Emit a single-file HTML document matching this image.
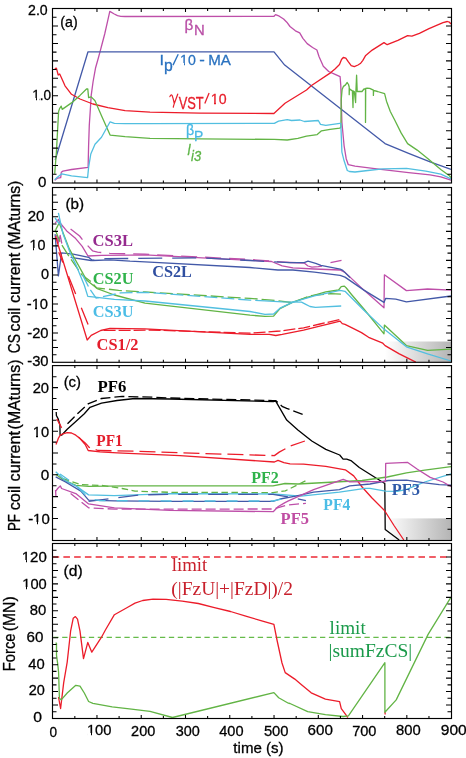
<!DOCTYPE html>
<html><head><meta charset="utf-8"><style>
html,body{margin:0;padding:0;background:#fff;}
svg{display:block;will-change:transform;}
text{-webkit-font-smoothing:antialiased;}
</style></head><body>
<svg width="466" height="758" viewBox="0 0 466 758">
<rect width="466" height="758" fill="#fff"/>
<defs><linearGradient id="g1" x1="0" x2="1" y1="0" y2="0"><stop offset="0" stop-color="#ffffff"/><stop offset="1" stop-color="#b4b4b4"/></linearGradient></defs>
<rect x="384.8" y="341.5" width="66.7" height="20.8" fill="url(#g1)"/>
<rect x="386" y="518.4" width="65.5" height="22.1" fill="url(#g1)"/>
<polyline points="54.7,180.4 55.9,179.2 57.5,178.1 60.7,177.6 61.3,172.2 62.9,171.1 71.5,169.5 88.1,167.4 88.6,145.8 89.3,125.0 90.3,110.0 91.2,95.4 93.1,81.5 95.6,67.7 98.2,58.5 100.2,51.1 101.8,45.0 104.7,34.0 107.9,19.8 109.8,11.4 114.3,14.0 117.5,15.6 120.8,16.3 125.0,16.5 274.0,16.3 275.5,14.6 279.3,16.2 283.6,19.0 286.8,22.2 290.0,26.5 295.4,30.8 299.7,32.9 302.9,38.3 307.2,43.6 312.6,47.5 316.9,50.0 319.0,56.5 323.3,66.2 328.7,71.5 335.1,74.4 340.1,76.7 340.8,85.7 341.9,122.2 344.1,145.8 346.2,158.7 348.3,164.7 355.0,166.2 380.8,169.4 408.6,172.6 430.1,174.8 440.8,176.9 451.0,180.1" fill="none" stroke="#be4fa9" stroke-width="1.3" stroke-linejoin="round" stroke-linecap="butt"/>
<polyline points="55.2,160.0 88.0,51.8 274.0,51.8 284.7,65.1 385.0,143.6 408.6,153.3 430.1,161.9 451.0,169.4" fill="none" stroke="#4359a8" stroke-width="1.3" stroke-linejoin="round" stroke-linecap="butt"/>
<polyline points="54.7,68.6 56.4,68.2 58.2,75.0 59.7,74.0 61.2,77.2 65.0,85.8 71.5,94.3 80.0,99.0 92.9,104.0 107.9,107.6 125.1,110.6 150.0,112.1 200.0,113.2 273.9,113.5 285.0,103.3 306.5,90.0 311.5,85.5 330.8,72.6 335.0,69.0 339.5,64.5 341.5,59.5 343.3,57.5 345.8,58.2 348.4,61.9 351.2,65.6 354.3,66.7 358.0,65.0 360.7,63.2 362.7,60.6 365.7,55.4 372.2,50.1 384.0,42.6 387.2,44.7 397.9,40.4 407.6,35.7 411.9,36.1 419.4,33.3 429.0,28.6 443.0,22.6 447.3,21.5 449.4,22.2 451.0,24.0" fill="none" stroke="#ec1c2a" stroke-width="1.3" stroke-linejoin="round" stroke-linecap="butt"/>
<polyline points="54.7,173.7 56.4,152.3 58.6,111.5 59.7,108.3 61.2,106.1 62.2,109.4 71.5,102.9 80.0,95.4 86.5,89.0 87.8,89.0 88.6,97.6 91.2,96.9 95.0,100.8 101.5,115.8 110.1,135.1 125.1,136.6 150.0,138.3 200.0,138.9 274.3,139.4 287.2,140.0 297.9,138.3 306.5,136.1 317.2,134.6 321.5,130.8 330.1,129.3 339.8,128.2 340.9,127.0 341.2,100.0 342.1,89.6 343.4,86.4 345.3,85.1 347.2,82.5 348.5,84.5 349.2,87.0 349.2,94.7 349.4,88.5 350.4,89.6 352.4,90.9 353.0,107.6 353.3,91.0 354.3,91.5 355.6,102.5 355.9,91.3 356.6,75.2 357.2,91.5 362.0,91.5 364.0,89.0 365.5,89.0 365.5,122.4 365.7,88.5 367.2,88.1 369.7,88.3 373.4,90.2 373.4,95.4 373.6,90.4 377.5,91.5 384.6,93.7 386.5,101.2 390.3,111.5 394.7,120.0 401.1,132.9 407.6,143.6 417.2,150.1 428.0,158.7 440.8,169.4 449.4,175.8 451.0,177.6" fill="none" stroke="#62b445" stroke-width="1.3" stroke-linejoin="round" stroke-linecap="butt"/>
<polyline points="54.7,179.7 56.4,178.1 61.8,173.8 71.5,175.9 87.6,177.6 88.6,167.4 90.8,154.0 95.0,144.3 101.5,137.3 110.1,121.8 114.4,123.3 125.1,123.6 150.0,123.6 274.3,123.3 278.6,121.1 287.2,119.6 291.5,120.5 300.0,120.0 304.4,121.5 318.3,120.5 320.5,124.3 325.8,125.4 339.8,123.3 340.8,123.3 341.9,152.2 344.1,160.8 347.3,170.5 349.4,171.5 355.0,172.0 367.9,170.5 382.9,168.8 406.5,168.3 425.8,171.1 440.8,174.1 451.0,178.8" fill="none" stroke="#52bfe0" stroke-width="1.3" stroke-linejoin="round" stroke-linecap="butt"/>
<polyline points="55.1,223.2 58.4,219.3 59.7,222.5 66.7,230.9 75.7,238.6 82.2,246.3 88.0,256.0 101.5,255.3 130.0,255.2 145.0,254.9 250.0,260.4 271.5,261.5 282.2,265.8 292.9,267.9 314.4,269.0 340.1,270.0 345.0,272.4 363.9,290.1 384.0,307.8 384.4,274.8 406.4,290.6 427.6,289.0 451.0,290.1" fill="none" stroke="#be4fa9" stroke-width="1.3" stroke-linejoin="round" stroke-linecap="butt"/>
<polyline points="70.6,229.0 79.6,236.0 84.7,242.5 92.5,250.8 97.6,252.1 110.0,253.4 145.0,254.2 250.0,259.5 290.0,262.5" fill="none" stroke="#be4fa9" stroke-width="1.3" stroke-linejoin="round" stroke-linecap="butt" stroke-dasharray="16,8"/>
<polyline points="290.0,262.5 304.2,263.0 308.0,266.0 311.9,267.2 318.3,266.6 322.0,266.0" fill="none" stroke="#be4fa9" stroke-width="1.3" stroke-linejoin="round" stroke-linecap="butt"/>
<polyline points="330.5,262.7 341.5,260.4" fill="none" stroke="#be4fa9" stroke-width="1.3" stroke-linejoin="round" stroke-linecap="butt"/>
<polyline points="56.5,235.0 58.3,243.0 60.2,235.5 61.8,243.5" fill="none" stroke="#be4fa9" stroke-width="1.3" stroke-linejoin="round" stroke-linecap="butt"/>
<polyline points="55.1,234.1 58.4,275.9 61.6,252.8 73.2,254.1 88.6,257.3 92.5,260.5 110.0,259.8 130.0,261.2 145.0,261.9 250.0,267.5 277.9,270.0 292.9,270.0 314.4,272.2 340.1,275.4 345.0,277.1 363.9,290.1 384.0,302.4 385.6,298.4 395.8,299.1 406.4,301.9 451.0,296.0" fill="none" stroke="#4359a8" stroke-width="1.3" stroke-linejoin="round" stroke-linecap="butt"/>
<polyline points="70.6,257.3 91.2,260.5 106.0,258.7 200.0,257.9 250.0,260.5 290.0,262.7" fill="none" stroke="#4359a8" stroke-width="1.3" stroke-linejoin="round" stroke-linecap="butt" stroke-dasharray="24,10"/>
<polyline points="290.0,262.7 304.2,262.7 308.0,261.2 315.7,263.4 320.9,265.3 340.2,269.2 342.8,270.4 350.0,277.5" fill="none" stroke="#4359a8" stroke-width="1.3" stroke-linejoin="round" stroke-linecap="butt"/>
<polyline points="55.8,229.6 59.0,223.2 60.3,225.7 69.3,248.9 82.2,272.1 86.5,280.0 97.2,288.6 114.4,295.0 145.0,303.1 250.0,315.2 265.0,316.4 273.6,316.2 280.0,308.7 292.9,302.2 300.0,299.6 312.9,295.7 325.7,291.9 338.6,290.0 341.2,286.7 344.4,286.1 346.3,288.0 351.5,294.5 363.9,309.0 384.0,333.8 384.4,325.1 406.4,345.6 427.6,350.3 451.0,349.2" fill="none" stroke="#62b445" stroke-width="1.3" stroke-linejoin="round" stroke-linecap="butt"/>
<polyline points="55.1,229.6 60.3,242.5 70.0,258.0 82.0,275.0 91.2,281.8 96.4,287.8 118.7,290.4 145.0,292.0 250.0,298.4 271.5,300.1 292.9,302.7 310.0,295.8 330.5,293.6 341.2,294.1" fill="none" stroke="#62b445" stroke-width="1.3" stroke-linejoin="round" stroke-linecap="butt" stroke-dasharray="13,4"/>
<polyline points="58.4,212.9 62.9,233.5 70.6,254.0 75.8,264.6 84.3,285.2 87.8,296.4 95.0,297.2 114.4,299.3 145.0,301.0 250.0,311.5 265.0,314.3 273.6,314.0 280.0,308.2 292.9,302.2 314.4,295.8 340.1,290.4 345.0,291.3 363.9,310.2 384.0,329.1 406.4,346.8 427.6,353.9 451.0,361.0" fill="none" stroke="#52bfe0" stroke-width="1.3" stroke-linejoin="round" stroke-linecap="butt"/>
<polyline points="55.1,218.0 59.7,224.5" fill="none" stroke="#52bfe0" stroke-width="1.3" stroke-linejoin="round" stroke-linecap="butt"/>
<polyline points="82.6,274.9 89.5,288.7 96.1,298.2 120.8,292.9 145.0,292.3 250.0,300.1 265.0,300.8" fill="none" stroke="#52bfe0" stroke-width="1.3" stroke-linejoin="round" stroke-linecap="butt" stroke-dasharray="13,4"/>
<polyline points="265.0,300.8 282.2,301.8 301.5,302.2 305.8,304.4 310.0,306.5 315.4,307.3 341.2,306.0" fill="none" stroke="#52bfe0" stroke-width="1.3" stroke-linejoin="round" stroke-linecap="butt"/>
<polyline points="55.5,236.3 87.2,340.0 91.2,335.3 100.7,330.5 110.0,328.3 145.0,328.8 250.0,334.4 269.3,334.4 275.8,335.5 282.2,334.4 303.6,330.1 320.8,325.8 340.1,321.1 342.3,323.7 345.0,324.4 352.1,327.9 361.5,332.6 368.6,337.3 382.8,343.2 385.1,345.6 399.3,353.9 415.8,362.2" fill="none" stroke="#ec1c2a" stroke-width="1.3" stroke-linejoin="round" stroke-linecap="butt"/>
<polyline points="58.7,252.2 88.3,325.0" fill="none" stroke="#ec1c2a" stroke-width="1.3" stroke-linejoin="round" stroke-linecap="butt" stroke-dasharray="11,15,19,15,18,20"/>
<polyline points="103.6,330.4 131.5,330.4 150.0,330.0 250.0,333.2 280.0,331.0 303.6,327.8 320.0,324.0 340.0,319.5" fill="none" stroke="#ec1c2a" stroke-width="1.3" stroke-linejoin="round" stroke-linecap="butt" stroke-dasharray="12,3"/>
<polyline points="56.2,412.0 56.4,415.5 58.2,418.9 59.9,424.9 60.1,435.2 61.6,435.2 67.2,429.2 75.8,421.5 84.3,413.7 90.0,407.3 101.5,403.1 117.0,400.5 135.0,398.5 170.0,399.0 273.2,401.6 275.7,401.1 286.7,420.1 297.9,429.9 311.8,441.0 325.8,449.4 339.7,455.0 343.1,459.2 346.7,459.2 350.9,460.6 359.3,467.5 370.4,474.5 384.8,483.5 385.2,529.4 399.2,540.0" fill="none" stroke="#000" stroke-width="1.3" stroke-linejoin="round" stroke-linecap="butt"/>
<polyline points="67.5,423.7 74.0,417.2 78.3,412.9 88.6,403.6 101.5,398.5 122.1,396.4 153.0,397.2 170.0,398.0 273.0,400.6 275.6,400.6 282.6,406.7 286.7,408.4 304.9,415.1" fill="none" stroke="#000" stroke-width="1.35" stroke-linejoin="round" stroke-linecap="butt" stroke-dasharray="10,4"/>
<polyline points="56.0,444.6 58.6,437.8 60.3,435.2 62.9,433.9 67.2,432.6 71.5,433.0 75.8,435.2 80.0,438.6 85.2,444.5 88.2,450.5 100.0,451.8 117.2,452.9 180.0,455.6 274.4,462.0 278.0,460.3 283.9,462.7 290.0,463.9 303.5,464.2 325.8,466.3 345.3,469.8 353.7,475.9 362.1,487.0 372.0,498.0 384.5,510.5 394.0,525.5 403.8,540.0" fill="none" stroke="#ec1c2a" stroke-width="1.3" stroke-linejoin="round" stroke-linecap="butt"/>
<polyline points="56.9,418.9 61.6,427.9" fill="none" stroke="#ec1c2a" stroke-width="1.3" stroke-linejoin="round" stroke-linecap="butt"/>
<polyline points="78.3,436.9 85.2,442.9 89.3,447.5 98.0,450.5 136.5,451.2 180.0,452.8 274.4,455.6 279.2,452.1 290.0,446.2 304.9,441.0" fill="none" stroke="#ec1c2a" stroke-width="1.3" stroke-linejoin="round" stroke-linecap="butt" stroke-dasharray="16,6"/>
<polyline points="55.7,474.3 62.9,479.5 75.8,485.4 88.6,486.4 127.3,485.9 273.0,485.9 285.0,483.5 297.9,484.0 325.8,482.5 362.1,480.5 387.2,477.0 406.5,472.8 424.7,470.1 451.0,466.6" fill="none" stroke="#62b445" stroke-width="1.3" stroke-linejoin="round" stroke-linecap="butt"/>
<polyline points="62.9,478.7 80.9,484.6 101.5,485.4 122.1,488.5 135.0,491.1 170.0,492.3 273.0,492.6 285.3,490.9 305.9,480.6" fill="none" stroke="#62b445" stroke-width="1.3" stroke-linejoin="round" stroke-linecap="butt" stroke-dasharray="6.5,3.5"/>
<polyline points="55.7,471.7 65.5,480.8 75.8,485.9 88.6,494.9 114.4,495.7 170.0,493.6 273.0,494.0 300.8,496.1 339.4,492.2 365.0,488.3 370.0,488.3 385.5,491.1 397.4,491.4 406.5,489.3 424.7,482.0 451.0,473.8" fill="none" stroke="#52bfe0" stroke-width="1.3" stroke-linejoin="round" stroke-linecap="butt"/>
<polyline points="55.7,476.9 65.5,482.0 80.9,491.1 88.6,500.1 114.4,500.8 170.0,501.4 273.0,501.4 280.0,499.0 295.6,496.1 313.6,492.2 339.4,489.6 349.7,485.8 370.0,484.0 388.2,480.5 406.5,480.1 424.7,482.9 439.3,484.7 451.0,485.2" fill="none" stroke="#4359a8" stroke-width="1.3" stroke-linejoin="round" stroke-linecap="butt"/>
<polyline points="88.6,501.4 140.1,494.9 170.0,494.3 273.0,494.3 290.5,497.3 305.9,500.7" fill="none" stroke="#4359a8" stroke-width="1.3" stroke-linejoin="round" stroke-linecap="butt" stroke-dasharray="20,10"/>
<polyline points="60.0,474.0 75.8,485.0 88.6,498.5 100.0,500.6 170.0,501.0 273.0,501.0 282.0,499.0" fill="none" stroke="#52bfe0" stroke-width="1.3" stroke-linejoin="round" stroke-linecap="butt" stroke-dasharray="11,11"/>
<polyline points="55.7,491.1 57.7,488.5 60.3,485.9 61.6,488.5 75.8,493.6 88.6,503.9 114.4,507.8 170.0,510.4 273.2,511.7 278.3,506.5 285.0,502.6 287.9,501.2 313.6,489.6 343.2,479.3 349.7,481.9 370.0,481.6 385.5,481.6 385.7,463.3 407.4,462.3 417.4,469.2 430.2,477.4 443.0,482.0 451.0,486.5" fill="none" stroke="#be4fa9" stroke-width="1.3" stroke-linejoin="round" stroke-linecap="butt"/>
<polyline points="55.5,490.0 56.0,497.0" fill="none" stroke="#be4fa9" stroke-width="1.3" stroke-linejoin="round" stroke-linecap="butt"/>
<polyline points="70.6,493.6 88.6,507.8 114.4,509.1 170.0,509.1 273.0,509.0 286.6,505.1 305.9,503.3" fill="none" stroke="#be4fa9" stroke-width="1.3" stroke-linejoin="round" stroke-linecap="butt" stroke-dasharray="10,4"/>
<polyline points="52.6,557.0 451.1,557.0" fill="none" stroke="#ec2a36" stroke-width="1.3" stroke-linejoin="round" stroke-linecap="butt" stroke-dasharray="6.6,4.16"/>
<polyline points="53.3,637.3 451.1,637.3" fill="none" stroke="#66bb4a" stroke-width="1.3" stroke-linejoin="round" stroke-linecap="butt" stroke-dasharray="5.3,3.59"/>
<polyline points="58.5,697.0 60.6,708.5 63.7,682.7 67.2,662.1 70.6,631.2 73.2,618.3 75.4,616.6 77.5,619.2 80.0,631.2 83.5,658.7 87.8,642.4 91.8,652.2 101.5,637.2 105.4,630.0 114.4,614.7 127.3,607.5 135.0,603.1 142.7,600.5 153.0,599.2 166.1,599.3 182.2,601.2 198.3,603.5 214.4,607.6 230.5,611.5 246.6,616.3 262.6,621.2 273.9,624.4 277.1,640.5 282.0,663.0 285.2,672.6 294.8,679.1 300.6,683.9 311.2,692.8 325.4,699.2 339.6,701.6 341.3,708.7 346.7,715.8 347.7,717.6" fill="none" stroke="#ec1c2a" stroke-width="1.3" stroke-linejoin="round" stroke-linecap="butt"/>
<polyline points="384.9,711.5 385.2,714.5" fill="none" stroke="#ec1c2a" stroke-width="1.3" stroke-linejoin="round" stroke-linecap="butt"/>
<polyline points="55.5,643.2 56.5,643.2 56.5,655.2 57.7,663.8 58.6,672.4 59.4,698.2 61.2,699.9 67.2,693.0 75.8,685.3 80.0,686.1 84.3,693.0 88.6,701.5 92.9,703.3 112.2,706.9 131.5,709.1 150.0,711.3 172.5,717.5 273.9,692.6 278.7,697.8 288.4,703.2 290.0,703.5 307.7,711.6 325.4,714.7 343.1,716.5 348.4,715.8 384.9,662.7 384.9,712.3 396.2,699.9 428.1,634.4 451.0,597.2" fill="none" stroke="#62b445" stroke-width="1.3" stroke-linejoin="round" stroke-linecap="butt"/>
<path d="M74.83,8.5v2.5M74.83,183.0v-2.5M96.97,8.5v3.5M96.97,183.0v-3.5M119.10,8.5v2.5M119.10,183.0v-2.5M141.23,8.5v3.5M141.23,183.0v-3.5M163.37,8.5v2.5M163.37,183.0v-2.5M185.50,8.5v3.5M185.50,183.0v-3.5M207.63,8.5v2.5M207.63,183.0v-2.5M229.77,8.5v3.5M229.77,183.0v-3.5M251.90,8.5v2.5M251.90,183.0v-2.5M274.03,8.5v3.5M274.03,183.0v-3.5M296.17,8.5v2.5M296.17,183.0v-2.5M318.30,8.5v3.5M318.30,183.0v-3.5M340.43,8.5v2.5M340.43,183.0v-2.5M362.57,8.5v3.5M362.57,183.0v-3.5M384.70,8.5v2.5M384.70,183.0v-2.5M406.83,8.5v3.5M406.83,183.0v-3.5M428.97,8.5v2.5M428.97,183.0v-2.5M52.5,174.28h4.0M451.5,174.28h-4.0M52.5,165.55h5.5M451.5,165.55h-5.5M52.5,156.82h4.0M451.5,156.82h-4.0M52.5,148.10h5.5M451.5,148.10h-5.5M52.5,139.38h4.0M451.5,139.38h-4.0M52.5,130.65h5.5M451.5,130.65h-5.5M52.5,121.92h4.0M451.5,121.92h-4.0M52.5,113.20h5.5M451.5,113.20h-5.5M52.5,104.47h4.0M451.5,104.47h-4.0M52.5,95.75h5.5M451.5,95.75h-5.5M52.5,87.02h4.0M451.5,87.02h-4.0M52.5,78.30h5.5M451.5,78.30h-5.5M52.5,69.58h4.0M451.5,69.58h-4.0M52.5,60.85h5.5M451.5,60.85h-5.5M52.5,52.12h4.0M451.5,52.12h-4.0M52.5,43.40h5.5M451.5,43.40h-5.5M52.5,34.67h4.0M451.5,34.67h-4.0M52.5,25.95h5.5M451.5,25.95h-5.5M52.5,17.22h4.0M451.5,17.22h-4.0" stroke="#000" stroke-width="1.05" fill="none"/>
<rect x="52.5" y="8.5" width="399.00" height="174.50" fill="none" stroke="#000" stroke-width="1.15"/>
<path d="M74.83,187.5v2.5M74.83,362.3v-2.5M96.97,187.5v3.5M96.97,362.3v-3.5M119.10,187.5v2.5M119.10,362.3v-2.5M141.23,187.5v3.5M141.23,362.3v-3.5M163.37,187.5v2.5M163.37,362.3v-2.5M185.50,187.5v3.5M185.50,362.3v-3.5M207.63,187.5v2.5M207.63,362.3v-2.5M229.77,187.5v3.5M229.77,362.3v-3.5M251.90,187.5v2.5M251.90,362.3v-2.5M274.03,187.5v3.5M274.03,362.3v-3.5M296.17,187.5v2.5M296.17,362.3v-2.5M318.30,187.5v3.5M318.30,362.3v-3.5M340.43,187.5v2.5M340.43,362.3v-2.5M362.57,187.5v3.5M362.57,362.3v-3.5M384.70,187.5v2.5M384.70,362.3v-2.5M406.83,187.5v3.5M406.83,362.3v-3.5M428.97,187.5v2.5M428.97,362.3v-2.5M52.5,354.74h4.0M451.5,354.74h-4.0M52.5,347.48h5.5M451.5,347.48h-5.5M52.5,340.23h4.0M451.5,340.23h-4.0M52.5,332.97h5.5M451.5,332.97h-5.5M52.5,325.71h4.0M451.5,325.71h-4.0M52.5,318.45h5.5M451.5,318.45h-5.5M52.5,311.19h4.0M451.5,311.19h-4.0M52.5,303.93h5.5M451.5,303.93h-5.5M52.5,296.68h4.0M451.5,296.68h-4.0M52.5,289.42h5.5M451.5,289.42h-5.5M52.5,282.16h4.0M451.5,282.16h-4.0M52.5,274.90h5.5M451.5,274.90h-5.5M52.5,267.64h4.0M451.5,267.64h-4.0M52.5,260.38h5.5M451.5,260.38h-5.5M52.5,253.12h4.0M451.5,253.12h-4.0M52.5,245.87h5.5M451.5,245.87h-5.5M52.5,238.61h4.0M451.5,238.61h-4.0M52.5,231.35h5.5M451.5,231.35h-5.5M52.5,224.09h4.0M451.5,224.09h-4.0M52.5,216.83h5.5M451.5,216.83h-5.5M52.5,209.57h4.0M451.5,209.57h-4.0M52.5,202.32h5.5M451.5,202.32h-5.5M52.5,195.06h4.0M451.5,195.06h-4.0" stroke="#000" stroke-width="1.05" fill="none"/>
<rect x="52.5" y="187.5" width="399.00" height="174.80" fill="none" stroke="#000" stroke-width="1.15"/>
<path d="M74.83,365.6v2.5M74.83,540.5v-2.5M96.97,365.6v3.5M96.97,540.5v-3.5M119.10,365.6v2.5M119.10,540.5v-2.5M141.23,365.6v3.5M141.23,540.5v-3.5M163.37,365.6v2.5M163.37,540.5v-2.5M185.50,365.6v3.5M185.50,540.5v-3.5M207.63,365.6v2.5M207.63,540.5v-2.5M229.77,365.6v3.5M229.77,540.5v-3.5M251.90,365.6v2.5M251.90,540.5v-2.5M274.03,365.6v3.5M274.03,540.5v-3.5M296.17,365.6v2.5M296.17,540.5v-2.5M318.30,365.6v3.5M318.30,540.5v-3.5M340.43,365.6v2.5M340.43,540.5v-2.5M362.57,365.6v3.5M362.57,540.5v-3.5M384.70,365.6v2.5M384.70,540.5v-2.5M406.83,365.6v3.5M406.83,540.5v-3.5M428.97,365.6v2.5M428.97,540.5v-2.5M52.5,529.30h4.0M451.5,529.30h-4.0M52.5,518.40h5.5M451.5,518.40h-5.5M52.5,507.50h4.0M451.5,507.50h-4.0M52.5,496.60h5.5M451.5,496.60h-5.5M52.5,485.70h4.0M451.5,485.70h-4.0M52.5,474.80h5.5M451.5,474.80h-5.5M52.5,463.90h4.0M451.5,463.90h-4.0M52.5,453.00h5.5M451.5,453.00h-5.5M52.5,442.10h4.0M451.5,442.10h-4.0M52.5,431.20h5.5M451.5,431.20h-5.5M52.5,420.30h4.0M451.5,420.30h-4.0M52.5,409.40h5.5M451.5,409.40h-5.5M52.5,398.50h4.0M451.5,398.50h-4.0M52.5,387.60h5.5M451.5,387.60h-5.5M52.5,376.70h4.0M451.5,376.70h-4.0" stroke="#000" stroke-width="1.05" fill="none"/>
<rect x="52.5" y="365.6" width="399.00" height="174.90" fill="none" stroke="#000" stroke-width="1.15"/>
<path d="M74.83,543.5v2.5M74.83,718.5v-2.5M96.97,543.5v3.5M96.97,718.5v-3.5M119.10,543.5v2.5M119.10,718.5v-2.5M141.23,543.5v3.5M141.23,718.5v-3.5M163.37,543.5v2.5M163.37,718.5v-2.5M185.50,543.5v3.5M185.50,718.5v-3.5M207.63,543.5v2.5M207.63,718.5v-2.5M229.77,543.5v3.5M229.77,718.5v-3.5M251.90,543.5v2.5M251.90,718.5v-2.5M274.03,543.5v3.5M274.03,718.5v-3.5M296.17,543.5v2.5M296.17,718.5v-2.5M318.30,543.5v3.5M318.30,718.5v-3.5M340.43,543.5v2.5M340.43,718.5v-2.5M362.57,543.5v3.5M362.57,718.5v-3.5M384.70,543.5v2.5M384.70,718.5v-2.5M406.83,543.5v3.5M406.83,718.5v-3.5M428.97,543.5v2.5M428.97,718.5v-2.5M52.5,711.77h4.0M451.5,711.77h-4.0M52.5,705.04h5.5M451.5,705.04h-5.5M52.5,698.31h4.0M451.5,698.31h-4.0M52.5,691.58h5.5M451.5,691.58h-5.5M52.5,684.85h4.0M451.5,684.85h-4.0M52.5,678.12h5.5M451.5,678.12h-5.5M52.5,671.38h4.0M451.5,671.38h-4.0M52.5,664.65h5.5M451.5,664.65h-5.5M52.5,657.92h4.0M451.5,657.92h-4.0M52.5,651.19h5.5M451.5,651.19h-5.5M52.5,644.46h4.0M451.5,644.46h-4.0M52.5,637.73h5.5M451.5,637.73h-5.5M52.5,631.00h4.0M451.5,631.00h-4.0M52.5,624.27h5.5M451.5,624.27h-5.5M52.5,617.54h4.0M451.5,617.54h-4.0M52.5,610.81h5.5M451.5,610.81h-5.5M52.5,604.08h4.0M451.5,604.08h-4.0M52.5,597.35h5.5M451.5,597.35h-5.5M52.5,590.62h4.0M451.5,590.62h-4.0M52.5,583.88h5.5M451.5,583.88h-5.5M52.5,577.15h4.0M451.5,577.15h-4.0M52.5,570.42h5.5M451.5,570.42h-5.5M52.5,563.69h4.0M451.5,563.69h-4.0M52.5,556.96h5.5M451.5,556.96h-5.5M52.5,550.23h4.0M451.5,550.23h-4.0" stroke="#000" stroke-width="1.05" fill="none"/>
<rect x="52.5" y="543.5" width="399.00" height="175.00" fill="none" stroke="#000" stroke-width="1.15"/>
<text x="28.09" y="14.50" font-family="Liberation Sans" font-size="15" fill="#000" stroke="#000" stroke-width="0.3" textLength="19.64" lengthAdjust="spacingAndGlyphs">2.0</text>
<text x="32.18" y="99.80" font-family="Liberation Sans" font-size="15" fill="#000" stroke="#000" stroke-width="0.3" textLength="18.83" lengthAdjust="spacingAndGlyphs">1.0</text>
<rect x="32.78" y="98" width="2.80" height="3" fill="#fff" shape-rendering="crispEdges"/>
<rect x="36.78" y="98" width="2.67" height="3" fill="#fff" shape-rendering="crispEdges"/>
<text x="37.90" y="186.50" font-family="Liberation Sans" font-size="15" fill="#000" stroke="#000" stroke-width="0.3" textLength="8.39" lengthAdjust="spacingAndGlyphs">0</text>
<text x="27.65" y="220.90" font-family="Liberation Sans" font-size="15" fill="#000" stroke="#000" stroke-width="0.3" textLength="16.75" lengthAdjust="spacingAndGlyphs">20</text>
<text x="29.42" y="250.40" font-family="Liberation Sans" font-size="15" fill="#000" stroke="#000" stroke-width="0.3" textLength="15.95" lengthAdjust="spacingAndGlyphs">10</text>
<rect x="30.08" y="248" width="2.94" height="3" fill="#fff" shape-rendering="crispEdges"/>
<rect x="34.28" y="248" width="2.80" height="3" fill="#fff" shape-rendering="crispEdges"/>
<text x="41.02" y="278.90" font-family="Liberation Sans" font-size="15" fill="#000" stroke="#000" stroke-width="0.3" textLength="8.04" lengthAdjust="spacingAndGlyphs">0</text>
<text x="26.74" y="308.50" font-family="Liberation Sans" font-size="15" fill="#000" stroke="#000" stroke-width="0.3" textLength="21.32" lengthAdjust="spacingAndGlyphs">-10</text>
<rect x="32.33" y="307" width="3.02" height="3" fill="#fff" shape-rendering="crispEdges"/>
<rect x="36.65" y="307" width="2.87" height="3" fill="#fff" shape-rendering="crispEdges"/>
<text x="27.24" y="337.50" font-family="Liberation Sans" font-size="15" fill="#000" stroke="#000" stroke-width="0.3" textLength="21.32" lengthAdjust="spacingAndGlyphs">-20</text>
<text x="27.24" y="365.50" font-family="Liberation Sans" font-size="15" fill="#000" stroke="#000" stroke-width="0.3" textLength="21.32" lengthAdjust="spacingAndGlyphs">-30</text>
<text x="32.66" y="393.20" font-family="Liberation Sans" font-size="15" fill="#000" stroke="#000" stroke-width="0.3" textLength="16.43" lengthAdjust="spacingAndGlyphs">20</text>
<text x="32.80" y="436.60" font-family="Liberation Sans" font-size="15" fill="#000" stroke="#000" stroke-width="0.3" textLength="16.28" lengthAdjust="spacingAndGlyphs">10</text>
<rect x="33.48" y="435" width="3.00" height="3" fill="#fff" shape-rendering="crispEdges"/>
<rect x="37.76" y="435" width="2.85" height="3" fill="#fff" shape-rendering="crispEdges"/>
<text x="40.69" y="480.30" font-family="Liberation Sans" font-size="15" fill="#000" stroke="#000" stroke-width="0.3" textLength="8.50" lengthAdjust="spacingAndGlyphs">0</text>
<text x="28.13" y="524.20" font-family="Liberation Sans" font-size="15" fill="#000" stroke="#000" stroke-width="0.3" textLength="21.64" lengthAdjust="spacingAndGlyphs">-10</text>
<rect x="33.81" y="522" width="3.06" height="3" fill="#fff" shape-rendering="crispEdges"/>
<rect x="38.19" y="522" width="2.91" height="3" fill="#fff" shape-rendering="crispEdges"/>
<text x="21.78" y="562.40" font-family="Liberation Sans" font-size="15" fill="#000" stroke="#000" stroke-width="0.3" textLength="25.00" lengthAdjust="spacingAndGlyphs">120</text>
<rect x="22.48" y="560" width="3.06" height="3" fill="#fff" shape-rendering="crispEdges"/>
<rect x="26.86" y="560" width="2.91" height="3" fill="#fff" shape-rendering="crispEdges"/>
<text x="22.30" y="589.40" font-family="Liberation Sans" font-size="15" fill="#000" stroke="#000" stroke-width="0.3" textLength="24.46" lengthAdjust="spacingAndGlyphs">100</text>
<rect x="22.98" y="587" width="3.00" height="3" fill="#fff" shape-rendering="crispEdges"/>
<rect x="27.27" y="587" width="2.86" height="3" fill="#fff" shape-rendering="crispEdges"/>
<text x="29.67" y="615.20" font-family="Liberation Sans" font-size="15" fill="#000" stroke="#000" stroke-width="0.3" textLength="16.52" lengthAdjust="spacingAndGlyphs">80</text>
<text x="26.64" y="642.30" font-family="Liberation Sans" font-size="15" fill="#000" stroke="#000" stroke-width="0.3" textLength="16.86" lengthAdjust="spacingAndGlyphs">60</text>
<text x="28.37" y="668.70" font-family="Liberation Sans" font-size="15" fill="#000" stroke="#000" stroke-width="0.3" textLength="16.42" lengthAdjust="spacingAndGlyphs">40</text>
<text x="28.68" y="695.10" font-family="Liberation Sans" font-size="15" fill="#000" stroke="#000" stroke-width="0.3" textLength="16.10" lengthAdjust="spacingAndGlyphs">20</text>
<text x="33.37" y="721.50" font-family="Liberation Sans" font-size="15" fill="#000" stroke="#000" stroke-width="0.3" textLength="8.74" lengthAdjust="spacingAndGlyphs">0</text>
<text x="49.56" y="737.00" font-family="Liberation Sans" font-size="15" fill="#000" stroke="#000" stroke-width="0.3" textLength="7.57" lengthAdjust="spacingAndGlyphs">0</text>
<text x="86.90" y="735.00" font-family="Liberation Sans" font-size="15" fill="#000" stroke="#000" stroke-width="0.3" textLength="24.57" lengthAdjust="spacingAndGlyphs">100</text>
<rect x="87.58" y="733" width="3.02" height="3" fill="#fff" shape-rendering="crispEdges"/>
<rect x="91.89" y="733" width="2.87" height="3" fill="#fff" shape-rendering="crispEdges"/>
<text x="131.08" y="736.20" font-family="Liberation Sans" font-size="15" fill="#000" stroke="#000" stroke-width="0.3" textLength="24.18" lengthAdjust="spacingAndGlyphs">200</text>
<text x="175.76" y="735.50" font-family="Liberation Sans" font-size="15" fill="#000" stroke="#000" stroke-width="0.3" textLength="24.10" lengthAdjust="spacingAndGlyphs">300</text>
<text x="219.27" y="735.50" font-family="Liberation Sans" font-size="15" fill="#000" stroke="#000" stroke-width="0.3" textLength="24.29" lengthAdjust="spacingAndGlyphs">400</text>
<text x="263.91" y="736.20" font-family="Liberation Sans" font-size="15" fill="#000" stroke="#000" stroke-width="0.3" textLength="24.66" lengthAdjust="spacingAndGlyphs">500</text>
<text x="307.54" y="734.50" font-family="Liberation Sans" font-size="15" fill="#000" stroke="#000" stroke-width="0.3" textLength="25.34" lengthAdjust="spacingAndGlyphs">600</text>
<text x="352.17" y="735.50" font-family="Liberation Sans" font-size="15" fill="#000" stroke="#000" stroke-width="0.3" textLength="24.29" lengthAdjust="spacingAndGlyphs">700</text>
<text x="396.07" y="734.50" font-family="Liberation Sans" font-size="15" fill="#000" stroke="#000" stroke-width="0.3" textLength="24.70" lengthAdjust="spacingAndGlyphs">800</text>
<text x="440.76" y="734.50" font-family="Liberation Sans" font-size="15" fill="#000" stroke="#000" stroke-width="0.3" textLength="25.94" lengthAdjust="spacingAndGlyphs">900</text>
<text x="233.37" y="753.30" font-family="Liberation Sans" font-size="15" fill="#000" stroke="#000" stroke-width="0.3" textLength="50.24" lengthAdjust="spacingAndGlyphs">time (s)</text>
<text x="60.31" y="26.50" font-family="Liberation Sans" font-size="15" fill="#000" stroke="#000" stroke-width="0.3" textLength="17.33" lengthAdjust="spacingAndGlyphs">(a)</text>
<text x="65.45" y="209.00" font-family="Liberation Sans" font-size="15" fill="#000" stroke="#000" stroke-width="0.3" textLength="18.56" lengthAdjust="spacingAndGlyphs">(b)</text>
<text x="63.67" y="386.50" font-family="Liberation Sans" font-size="15" fill="#000" stroke="#000" stroke-width="0.3" textLength="17.34" lengthAdjust="spacingAndGlyphs">(c)</text>
<text x="63.62" y="575.80" font-family="Liberation Sans" font-size="15" fill="#000" stroke="#000" stroke-width="0.3" textLength="19.11" lengthAdjust="spacingAndGlyphs">(d)</text>
<text transform="translate(19.80,352.50) rotate(-90)" x="-0.69" y="0" font-family="Liberation Sans" font-size="15.8" fill="#000" stroke="#000" stroke-width="0.3" textLength="19.20" lengthAdjust="spacingAndGlyphs">CS</text>
<text transform="translate(19.80,330.80) rotate(-90)" x="-0.67" y="0" font-family="Liberation Sans" font-size="15.8" fill="#000" stroke="#000" stroke-width="0.3" textLength="23.75" lengthAdjust="spacingAndGlyphs">coil</text>
<text transform="translate(19.80,302.40) rotate(-90)" x="-0.69" y="0" font-family="Liberation Sans" font-size="15.8" fill="#000" stroke="#000" stroke-width="0.3" textLength="50.41" lengthAdjust="spacingAndGlyphs">current</text>
<text transform="translate(19.80,248.80) rotate(-90)" x="-0.98" y="0" font-family="Liberation Sans" font-size="15.8" fill="#000" stroke="#000" stroke-width="0.3" textLength="69.05" lengthAdjust="spacingAndGlyphs">(MAturns)</text>
<text transform="translate(19.50,529.90) rotate(-90)" x="-1.09" y="0" font-family="Liberation Sans" font-size="15.8" fill="#000" stroke="#000" stroke-width="0.3" textLength="16.93" lengthAdjust="spacingAndGlyphs">PF</text>
<text transform="translate(19.50,509.60) rotate(-90)" x="-0.69" y="0" font-family="Liberation Sans" font-size="15.8" fill="#000" stroke="#000" stroke-width="0.3" textLength="24.40" lengthAdjust="spacingAndGlyphs">coil</text>
<text transform="translate(19.50,480.70) rotate(-90)" x="-0.69" y="0" font-family="Liberation Sans" font-size="15.8" fill="#000" stroke="#000" stroke-width="0.3" textLength="50.51" lengthAdjust="spacingAndGlyphs">current</text>
<text transform="translate(19.50,428.40) rotate(-90)" x="-1.00" y="0" font-family="Liberation Sans" font-size="15.8" fill="#000" stroke="#000" stroke-width="0.3" textLength="69.88" lengthAdjust="spacingAndGlyphs">(MAturns)</text>
<text transform="translate(15.10,670.00) rotate(-90)" x="-1.22" y="0" font-family="Liberation Sans" font-size="16.5" fill="#000" stroke="#000" stroke-width="0.3" textLength="37.76" lengthAdjust="spacingAndGlyphs">Force</text>
<text transform="translate(15.10,630.20) rotate(-90)" x="-0.98" y="0" font-family="Liberation Sans" font-size="16.5" fill="#000" stroke="#000" stroke-width="0.3" textLength="34.84" lengthAdjust="spacingAndGlyphs">(MN)</text>
<text x="184.53" y="30.30" font-family="Liberation Sans" font-size="14" fill="#b94fa6" stroke="#b94fa6" stroke-width="0.3" textLength="8.78" lengthAdjust="spacingAndGlyphs">β</text>
<text x="194.07" y="35.20" font-family="Liberation Sans" font-size="15" fill="#b94fa6" stroke="#b94fa6" stroke-width="0.3" textLength="10.75" lengthAdjust="spacingAndGlyphs">N</text>
<text x="159.40" y="65.40" font-family="Liberation Sans" font-size="15.5" fill="#2a72c0" stroke="#2a72c0" stroke-width="0.3" textLength="4.51" lengthAdjust="spacingAndGlyphs">I</text>
<text x="164.07" y="70.90" font-family="Liberation Sans" font-size="16" fill="#2a72c0" stroke="#2a72c0" stroke-width="0.3" textLength="8.78" lengthAdjust="spacingAndGlyphs">p</text>
<path d="M173.0,65.1 L178.2,54.3" stroke="#2a72c0" stroke-width="1.35" fill="none"/>
<text x="180.04" y="65.40" font-family="Liberation Sans" font-size="15.5" fill="#2a72c0" stroke="#2a72c0" stroke-width="0.3" textLength="15.72" lengthAdjust="spacingAndGlyphs">10</text>
<rect x="180.68" y="63" width="2.91" height="3" fill="#fff" shape-rendering="crispEdges"/>
<rect x="184.83" y="63" width="2.77" height="3" fill="#fff" shape-rendering="crispEdges"/>
<text x="199.35" y="65.40" font-family="Liberation Sans" font-size="15.5" fill="#2a72c0" stroke="#2a72c0" stroke-width="0.3" textLength="5.57" lengthAdjust="spacingAndGlyphs">-</text>
<text x="208.15" y="65.40" font-family="Liberation Sans" font-size="15.5" fill="#2a72c0" stroke="#2a72c0" stroke-width="0.3" textLength="22.69" lengthAdjust="spacingAndGlyphs">MA</text>
<path d="M169.9,96.6 Q170.9,93.9 172.2,95.6 Q173.3,98.5 174.3,103.6 M177.7,94.2 L174.3,103.6 Q173.6,105.5 173.3,107.2" fill="none" stroke="#e8202c" stroke-width="1.25" stroke-linecap="round" stroke-linejoin="round"/>
<text x="178.64" y="108.90" font-family="Liberation Sans" font-size="15.8" fill="#e8202c" stroke="#e8202c" stroke-width="0.3" textLength="25.05" lengthAdjust="spacingAndGlyphs">VST</text>
<path d="M204.8,103.6 L209.1,92.9" stroke="#e8202c" stroke-width="1.3" fill="none"/>
<text x="210.84" y="103.60" font-family="Liberation Sans" font-size="15" fill="#e8202c" stroke="#e8202c" stroke-width="0.3" textLength="15.72" lengthAdjust="spacingAndGlyphs">10</text>
<rect x="211.48" y="102" width="2.91" height="3" fill="#fff" shape-rendering="crispEdges"/>
<rect x="215.63" y="102" width="2.77" height="3" fill="#fff" shape-rendering="crispEdges"/>
<text x="186.11" y="135.40" font-family="Liberation Sans" font-size="14.5" fill="#48b8e4" stroke="#48b8e4" stroke-width="0.3" textLength="8.16" lengthAdjust="spacingAndGlyphs">β</text>
<text x="194.05" y="141.00" font-family="Liberation Sans" font-size="15" fill="#48b8e4" stroke="#48b8e4" stroke-width="0.3" textLength="9.27" lengthAdjust="spacingAndGlyphs">P</text>
<text x="187.50" y="155.20" font-family="Liberation Sans" font-size="15" fill="#5cb446" stroke="#5cb446" stroke-width="0.3" font-style="italic" textLength="2.99" lengthAdjust="spacingAndGlyphs">l</text>
<text x="191.01" y="161.10" font-family="Liberation Sans" font-size="14.5" fill="#5cb446" stroke="#5cb446" stroke-width="0.3" font-style="italic" textLength="10.10" lengthAdjust="spacingAndGlyphs">i3</text>
<text x="92.52" y="245.80" font-family="Liberation Serif" font-size="16" fill="#952a8e" font-weight="bold" textLength="40.39" lengthAdjust="spacingAndGlyphs">CS3L</text>
<text x="152.33" y="277.30" font-family="Liberation Serif" font-size="16" fill="#2f4ea0" font-weight="bold" textLength="39.56" lengthAdjust="spacingAndGlyphs">CS2L</text>
<text x="92.73" y="284.00" font-family="Liberation Serif" font-size="16" fill="#30b34b" font-weight="bold" textLength="40.69" lengthAdjust="spacingAndGlyphs">CS2U</text>
<text x="92.73" y="317.20" font-family="Liberation Serif" font-size="16" fill="#4cbde6" font-weight="bold" textLength="40.69" lengthAdjust="spacingAndGlyphs">CS3U</text>
<text x="96.62" y="350.30" font-family="Liberation Serif" font-size="16" fill="#e41e2c" font-weight="bold" textLength="41.89" lengthAdjust="spacingAndGlyphs">CS1/2</text>
<text x="97.51" y="391.80" font-family="Liberation Serif" font-size="16" fill="#000000" font-weight="bold" textLength="28.78" lengthAdjust="spacingAndGlyphs">PF6</text>
<text x="96.33" y="445.90" font-family="Liberation Serif" font-size="16" fill="#e41e2c" font-weight="bold" textLength="26.36" lengthAdjust="spacingAndGlyphs">PF1</text>
<text x="251.22" y="482.60" font-family="Liberation Serif" font-size="16" fill="#30b34b" font-weight="bold" textLength="27.55" lengthAdjust="spacingAndGlyphs">PF2</text>
<text x="391.81" y="495.40" font-family="Liberation Serif" font-size="16" fill="#2f5aa8" font-weight="bold" textLength="28.15" lengthAdjust="spacingAndGlyphs">PF3</text>
<text x="323.33" y="510.00" font-family="Liberation Serif" font-size="16" fill="#4cbde6" font-weight="bold" textLength="26.94" lengthAdjust="spacingAndGlyphs">PF4</text>
<text x="280.61" y="524.20" font-family="Liberation Serif" font-size="16" fill="#c04da3" font-weight="bold" textLength="28.29" lengthAdjust="spacingAndGlyphs">PF5</text>
<text x="171.72" y="571.00" font-family="Liberation Serif" font-size="19" fill="#c8202c" textLength="35.56" lengthAdjust="spacingAndGlyphs">limit</text>
<text x="171.37" y="594.60" font-family="Liberation Serif" font-size="19" fill="#c8202c" textLength="121.61" lengthAdjust="spacingAndGlyphs">(|FzU|+|FzD|)/2</text>
<text x="329.62" y="633.80" font-family="Liberation Serif" font-size="19" fill="#1a9a4a" textLength="36.16" lengthAdjust="spacingAndGlyphs">limit</text>
<text x="328.54" y="657.40" font-family="Liberation Serif" font-size="19" fill="#1a9a4a" textLength="83.64" lengthAdjust="spacingAndGlyphs">|sumFzCS|</text>
</svg></body></html>
